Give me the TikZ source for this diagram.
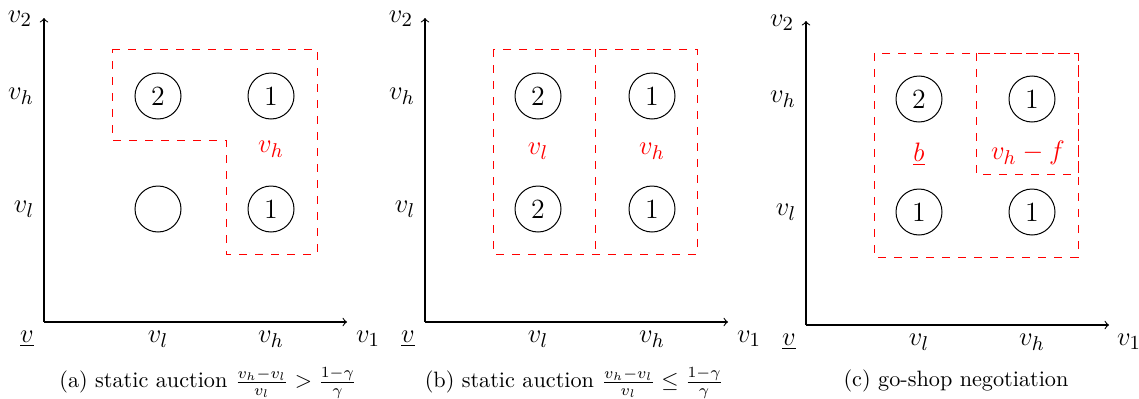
\documentclass[tikz,border=0pt]{standalone}
\usetikzlibrary{shapes.geometric}
\begin{document}
\begin{tikzpicture}[x=0.45pt,y=-0.45pt,
  axis/.style={->,line width=0.5pt},
  circ/.style={draw,circle,line width=0.45pt,minimum size=20.7pt,inner sep=0pt,font=\fontsize{12.5}{15}\selectfont},
  region/.style={draw=red,line width=0.45pt,dash pattern=on 3.6pt off 3.6pt},
  lab/.style={inner sep=0pt,font=\fontsize{12.5}{15}\selectfont},
  rlab/.style={lab,text=red},
  captext/.style={inner sep=0pt,font=\normalsize}]
\useasboundingbox (0,0) rectangle (1139,398);
% ---------- panel (a)
\coordinate (Oa) at (44,322);
\coordinate (Ya) at (44,18);
\coordinate (Xa) at (347,322);
\draw[axis] (Oa) -- (Ya);
\draw[axis] (Oa) -- (Xa);
\node[lab] (a-v2) at (20,19) {$v_2$};
\node[lab] (a-vh) at (21,96) {$v_h$};
\node[lab] (a-vl) at (24,209) {$v_l$};
\node[lab] (a-v0) at (27,339) {$\underline{v}$};
\node[lab] (a-xl) at (158,339) {$v_l$};
\node[lab] (a-xh) at (271,339) {$v_h$};
\node[lab] (a-v1) at (368,339) {$v_1$};
\node[circ] (a11) at (158,96) {2};
\node[circ] (a12) at (271,96) {1};
\node[circ] (a21) at (158,209) {};
\node[circ] (a22) at (271,209) {1};
\draw[region] (112,49) -- (317,49) -- (317,254) -- (226,254) -- (226,140) -- (112,140) -- cycle;
\node[rlab] (a-r) at (271,149) {$v_h$};
\node[captext] (a-cap) at (208,383) {(a) static auction $\frac{v_h-v_l}{v_l} > \frac{1-\gamma}{\gamma}$};
% ---------- panel (b)
\coordinate (Ob) at (425,322);
\coordinate (Yb) at (425,18);
\coordinate (Xb) at (728,322);
\draw[axis] (Ob) -- (Yb);
\draw[axis] (Ob) -- (Xb);
\node[lab] (b-v2) at (401,19) {$v_2$};
\node[lab] (b-vh) at (402,96) {$v_h$};
\node[lab] (b-vl) at (405,209) {$v_l$};
\node[lab] (b-v0) at (408,339) {$\underline{v}$};
\node[lab] (b-xl) at (538,339) {$v_l$};
\node[lab] (b-xh) at (652,339) {$v_h$};
\node[lab] (b-v1) at (749,339) {$v_1$};
\node[circ] (b11) at (538,96) {2};
\node[circ] (b12) at (652,96) {1};
\node[circ] (b21) at (538,209) {2};
\node[circ] (b22) at (652,209) {1};
\draw[region] (493,49) rectangle (697,254);
\draw[region] (595,49) -- (595,254);
\node[rlab] (b-rl) at (538,151) {$v_l$};
\node[rlab] (b-rh) at (652,151) {$v_h$};
\node[captext] (b-cap) at (574,383) {(b) static auction $\frac{v_h-v_l}{v_l} \leq \frac{1-\gamma}{\gamma}$};
% ---------- panel (c)
\coordinate (Oc) at (806,325);
\coordinate (Yc) at (806,21);
\coordinate (Xc) at (1109,325);
\draw[axis] (Oc) -- (Yc);
\draw[axis] (Oc) -- (Xc);
\node[lab] (c-v2) at (782,23) {$v_2$};
\node[lab] (c-vh) at (783,99) {$v_h$};
\node[lab] (c-vl) at (786,212) {$v_l$};
\node[lab] (c-v0) at (789,342) {$\underline{v}$};
\node[lab] (c-xl) at (919,342) {$v_l$};
\node[lab] (c-xh) at (1032,342) {$v_h$};
\node[lab] (c-v1) at (1129,342) {$v_1$};
\node[circ] (c11) at (919,99) {2};
\node[circ] (c12) at (1032,99) {1};
\node[circ] (c21) at (919,212) {1};
\node[circ] (c22) at (1032,212) {1};
\draw[region] (874,53) rectangle (1078,257);
\draw[region] (976,53) rectangle (1078,174);
\node[rlab] (c-rb) at (919,154) {$\underline{b}$};
\node[rlab] (c-rh) at (1028,153) {$v_h - f$};
\node[captext] (c-cap) at (956,381) {(c) go-shop negotiation};
\end{tikzpicture}
\end{document}
